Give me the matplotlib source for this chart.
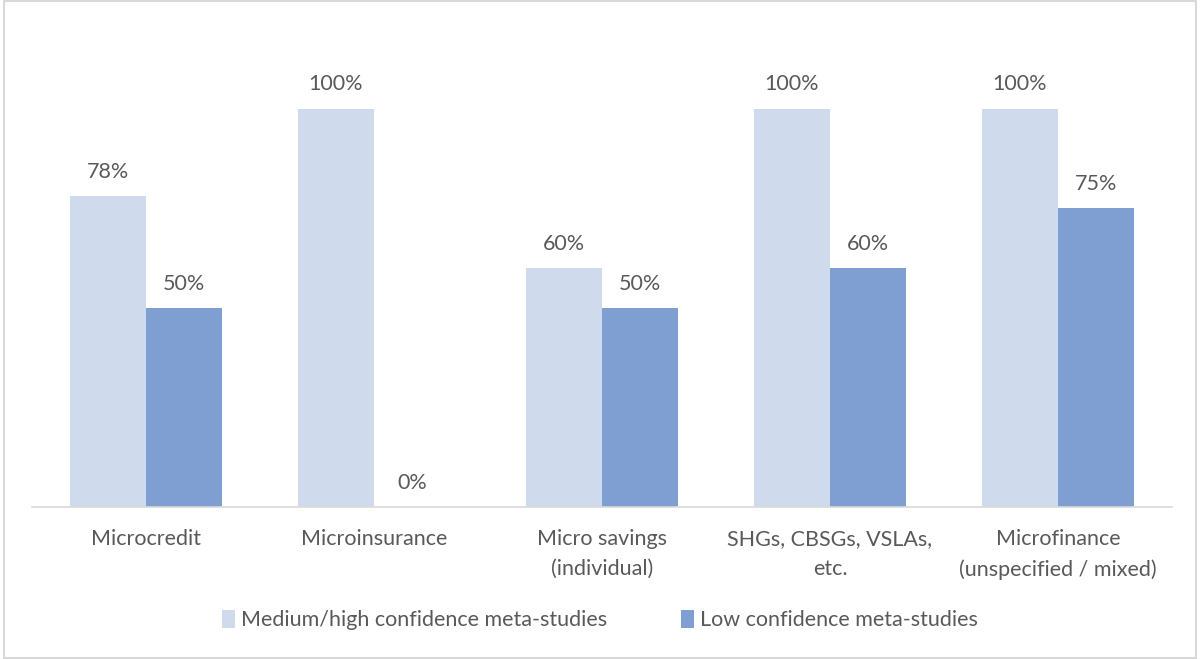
import matplotlib
matplotlib.use('Agg')
from matplotlib import pyplot as plt
from matplotlib.patches import Rectangle
import numpy as np

categories = ["Microcredit", "Microinsurance", "Micro savings\n(individual)",
              "SHGs, CBSGs, VSLAs,\netc.", "Microfinance\n(unspecified / mixed)"]
medium_high = [78, 100, 60, 100, 100]
low = [50, 0, 50, 60, 75]
series_names = ["Medium/high confidence meta-studies", "Low confidence meta-studies"]

light = "#CFDAED"
dark = "#7F9FD3"
txt = "#595959"
fs = 15.5

plt.rcParams['font.family'] = ['Lato', 'DejaVu Sans']

fig = plt.figure(figsize=(12, 6.59), dpi=100)
fig.patches.append(Rectangle((0.003, 0.002), 0.994, 0.996, transform=fig.transFigure,
                             fill=False, edgecolor="#D9D9D9", linewidth=1.5))
ax = fig.add_axes([32 / 1200, 152 / 659, 1140 / 1200, 478 / 659])

x = np.arange(len(categories))
w = 1 / 3
b1 = ax.bar(x - w / 2, medium_high, w, color=light, label=series_names[0])
b2 = ax.bar(x + w / 2, low, w, color=dark, label=series_names[1])

for bars, vals in ((b1, medium_high), (b2, low)):
    for r, v in zip(bars, vals):
        ax.annotate(f"{v}%", (r.get_x() + r.get_width() / 2, v), xytext=(0, 17.5),
                    textcoords="offset points", ha="center", va="center",
                    fontsize=fs, color=txt)

ax.set_xlim(-0.5, len(categories) - 0.5)
ax.set_ylim(0, 120)
ax.set_yticks([])
ax.set_xticks(x)
ax.set_xticklabels(categories, fontsize=fs, color=txt, linespacing=1.6)
ax.tick_params(axis='x', length=0, pad=16)
for s in ["top", "right", "left"]:
    ax.spines[s].set_visible(False)
ax.spines["bottom"].set_color("#D9D9D9")
ax.spines["bottom"].set_linewidth(1.2)

fig.legend(loc="center", bbox_to_anchor=(0.5, 1 - 620 / 659), ncol=2, frameon=False,
           fontsize=fs, labelcolor=txt, handlelength=0.6, handleheight=0.9,
           handletextpad=0.3, columnspacing=3.4)

fig.savefig("out.png", dpi=100)
